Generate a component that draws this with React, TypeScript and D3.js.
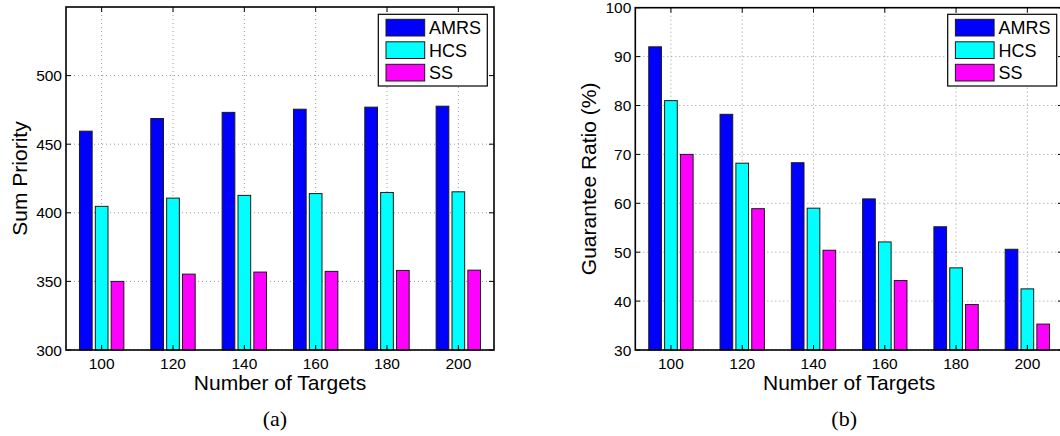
import React from "react";
import * as d3 from "d3";

const categories = ["100", "120", "140", "160", "180", "200"];
const seriesNames = ["AMRS", "HCS", "SS"];
const seriesColors = ["#0000ff", "#00ffff", "#ff00ff"];

const sumAMRS = [459.5, 468.7, 473.2, 475.5, 477, 477.7];
const sumHCS = [404.7, 410.7, 412.7, 414, 414.8, 415.3];
const sumSS = [350, 355.3, 356.8, 357.3, 358, 358.2];

const ratioAMRS = [92, 78.2, 68.3, 60.9, 55.2, 50.6];
const ratioHCS = [81, 68.2, 59, 52.1, 46.8, 42.5];
const ratioSS = [70, 58.9, 50.4, 44.2, 39.3, 35.3];

const sumTicks = [300, 350, 400, 450, 500];
const ratioTicks = [30, 40, 50, 60, 70, 80, 90, 100];

const FONT = "'Liberation Sans', Arial, Helvetica, sans-serif";

type PanelProps = {
  left: number;
  right: number;
  top: number;
  bottom: number;
  yDomain: [number, number];
  yTicks: number[];
  series: number[][];
  yLabel: string;
  yLabelX: number;
  legendX: number;
  caption: string;
};

function Panel(p: PanelProps) {
  const x = d3.scaleLinear().domain([0.5, categories.length + 0.5]).range([p.left, p.right]);
  const y = d3.scaleLinear().domain(p.yDomain).range([p.bottom, p.top]);
  const groupW = Math.min(0.8, 3 / 4.5);
  const barW = (groupW / 3) * 0.8;
  const offsets = [-groupW / 3, 0, groupW / 3];
  const tickLen = 5;
  const cx = (p.left + p.right) / 2;
  const cy = (p.top + p.bottom) / 2;
  const legendY = 14.3;
  const legendW = 109;
  const legendH = 71.7;
  return (
    <g>
      {p.yTicks.map((t) => (
        <line key={"gy" + t} x1={p.left} x2={p.right} y1={y(t)} y2={y(t)} stroke="#9a9a9a" strokeWidth={1} strokeDasharray="1,3" />
      ))}
      {categories.map((c, i) => (
        <line key={"gx" + c} x1={x(i + 1)} x2={x(i + 1)} y1={p.top} y2={p.bottom} stroke="#9a9a9a" strokeWidth={1} strokeDasharray="1,3" />
      ))}
      {p.series.map((vals, s) =>
        vals.map((v, i) => {
          const x0 = x(i + 1 + offsets[s] - barW / 2);
          const x1 = x(i + 1 + offsets[s] + barW / 2);
          return (
            <rect
              key={"b" + s + "-" + i}
              x={x0}
              y={y(v)}
              width={x1 - x0}
              height={p.bottom - y(v)}
              fill={seriesColors[s]}
              stroke="#1a1a1a"
              strokeWidth={1}
            />
          );
        })
      )}
      <rect x={p.left} y={p.top} width={p.right - p.left} height={p.bottom - p.top} fill="none" stroke="#000" strokeWidth={1.6} />
      {p.yTicks.map((t) => (
        <g key={"ty" + t}>
          <line x1={p.left} x2={p.left + tickLen} y1={y(t)} y2={y(t)} stroke="#000" />
          <line x1={p.right} x2={p.right - tickLen} y1={y(t)} y2={y(t)} stroke="#000" />
          <text x={p.left - 4} y={y(t)} dy="0.36em" textAnchor="end" fontSize={15.5} fontFamily={FONT} fill="#000">
            {t}
          </text>
        </g>
      ))}
      {categories.map((c, i) => (
        <g key={"tx" + c}>
          <line x1={x(i + 1)} x2={x(i + 1)} y1={p.bottom} y2={p.bottom - tickLen} stroke="#000" />
          <line x1={x(i + 1)} x2={x(i + 1)} y1={p.top} y2={p.top + tickLen} stroke="#000" />
          <text x={x(i + 1)} y={369} textAnchor="middle" fontSize={15.5} fontFamily={FONT} fill="#000">
            {c}
          </text>
        </g>
      ))}
      <text x={cx} y={390} textAnchor="middle" fontSize={21} fontFamily={FONT} fill="#000">
        Number of Targets
      </text>
      <text
        transform={`translate(${p.yLabelX},${cy}) rotate(-90)`}
        textAnchor="middle"
        dy="0.36em"
        fontSize={21}
        fontFamily={FONT}
        fill="#000"
      >
        {p.yLabel}
      </text>
      <rect x={p.legendX} y={legendY} width={legendW} height={legendH} fill="#fff" stroke="#000" strokeWidth={1.2} />
      {seriesNames.map((n, s) => (
        <g key={"l" + n}>
          <rect x={p.legendX + 7.7} y={legendY + 5 + s * 22.5} width={38.7} height={16.7} fill={seriesColors[s]} stroke="#1a1a1a" strokeWidth={1} />
          <text x={p.legendX + 50.7} y={legendY + 13.4 + s * 22.5} dy="0.36em" fontSize={18} fontFamily={FONT} fill="#000">
            {n}
          </text>
        </g>
      ))}
      <text x={cx - 5} y={426} textAnchor="middle" fontSize={22} fontFamily="'Liberation Serif', 'Times New Roman', serif" fill="#000">
        {p.caption}
      </text>
    </g>
  );
}

export default function App() {
  return (
    <svg
      width={1060}
      height={436}
      style={{ position: "absolute", left: 0, top: 0, background: "#fff" }}
      xmlns="http://www.w3.org/2000/svg"
    >
      <rect x={0} y={0} width={1060} height={436} fill="#fff" />
      <Panel
        left={66}
        right={494}
        top={7}
        bottom={350}
        yDomain={[300, 550]}
        yTicks={sumTicks}
        series={[sumAMRS, sumHCS, sumSS]}
        yLabel="Sum Priority"
        yLabelX={19}
        legendX={378.3}
        caption="(a)"
      />
      <Panel
        left={635.3}
        right={1063}
        top={7.7}
        bottom={350}
        yDomain={[30, 100]}
        yTicks={ratioTicks}
        series={[ratioAMRS, ratioHCS, ratioSS]}
        yLabel="Guarantee Ratio (%)"
        yLabelX={588}
        legendX={947.7}
        caption="(b)"
      />
    </svg>
  );
}
